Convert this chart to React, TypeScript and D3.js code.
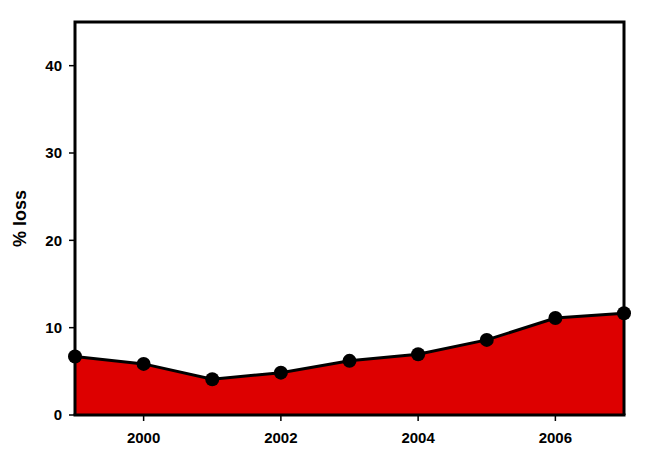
import React from "react";
import * as d3 from "d3";

const years = [1999, 2000, 2001, 2002, 2003, 2004, 2005, 2006, 2007];
const loss = [6.7, 5.85, 4.1, 4.85, 6.2, 6.95, 8.6, 11.1, 11.65];
const xTicks = [2000, 2002, 2004, 2006];
const yTicks = [0, 10, 20, 30, 40];

const W = 645, H = 460;
const left = 75, right = 624, top = 22, bottom = 415;

export default function App() {
  const x = d3.scaleLinear().domain([1999, 2007]).range([left, right]);
  const y = d3.scaleLinear().domain([0, 45]).range([bottom, top]);
  const pts = years.map((yr, i) => [yr, loss[i]] as [number, number]);
  const area = d3.area<[number, number]>().x(d => x(d[0])).y0(y(0)).y1(d => y(d[1]))(pts) || "";
  const line = d3.line<[number, number]>().x(d => x(d[0])).y(d => y(d[1]))(pts) || "";
  const font = "'Liberation Sans', Arial, sans-serif";
  return (
    <svg width={W} height={H} style={{ position: "absolute", left: 0, top: 0, background: "#fff" }}>
      <path d={area} fill="#dd0000" />
      <path d={line} fill="none" stroke="#000" strokeWidth={3} />
      <path d={`M${left},${bottom}V${top}H${right}V${bottom}`} fill="none" stroke="#000" strokeWidth={3} />
      <line x1={left - 1.5} x2={right + 1.5} y1={bottom} y2={bottom} stroke="#000" strokeWidth={3} />
      {yTicks.map(t => (
        <g key={t}>
          <line x1={left - 6} x2={left} y1={y(t)} y2={y(t)} stroke="#000" strokeWidth={1.5} />
          <text x={left - 13} y={y(t)} dy="0.35em" textAnchor="end" fontFamily={font} fontWeight="bold" fontSize={15}>{t}</text>
        </g>
      ))}
      {xTicks.map(t => (
        <g key={t}>
          <line x1={x(t)} x2={x(t)} y1={bottom} y2={bottom + 6} stroke="#000" strokeWidth={1.5} />
          <text x={x(t)} y={bottom + 28} textAnchor="middle" fontFamily={font} fontWeight="bold" fontSize={15}>{t}</text>
        </g>
      ))}
      {pts.map((d, i) => (
        <circle key={i} cx={x(d[0])} cy={y(d[1])} r={7} fill="#000" />
      ))}
      <text transform={`translate(26,${(top + bottom) / 2}) rotate(-90)`} textAnchor="middle" fontFamily={font} fontWeight="bold" fontSize={18}>% loss</text>
    </svg>
  );
}
